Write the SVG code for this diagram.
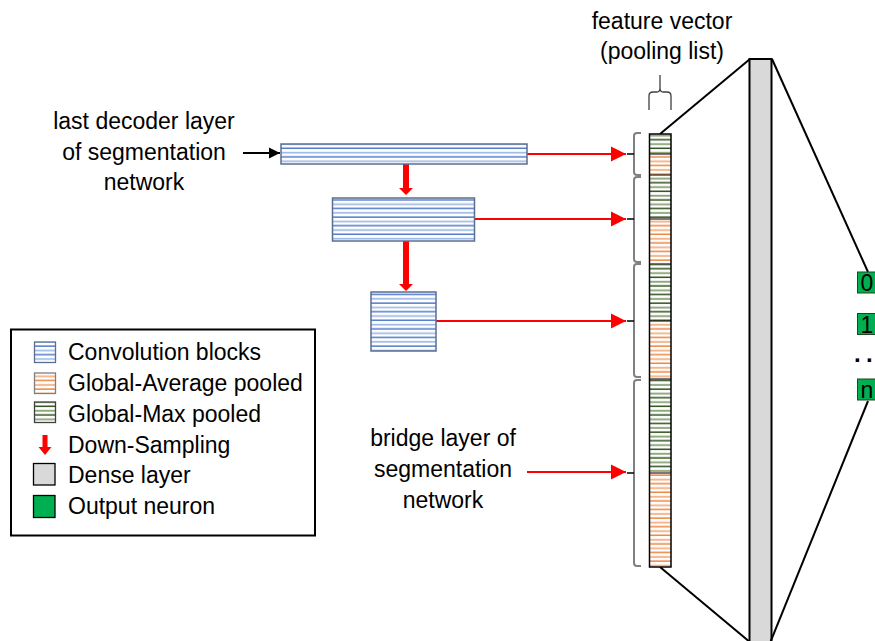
<svg xmlns="http://www.w3.org/2000/svg" width="875" height="641" viewBox="0 0 875 641">
<style>
.t{font-family:"Liberation Sans",Arial,sans-serif;font-size:22px;fill:#000}
.lg{font-size:23px}
.conv{fill:url(#pBlue);stroke:#5A6E92;stroke-width:1.5}
.red{stroke:#FF0000;stroke-width:2;fill:none}
.brk{stroke:#808080;stroke-width:2;fill:none}
.tick{stroke:#000;stroke-width:1.5}
.ln{stroke:#000;stroke-width:2;fill:none}
.out{fill:#00B050;stroke:#1E4620;stroke-width:1}
</style>
<defs>
<pattern id="pBlue" patternUnits="userSpaceOnUse" width="10" height="8.6">
<rect width="10" height="8.6" fill="#fff"/>
<rect y="1.4" width="10" height="1.4" fill="#4472C4"/>
<rect y="5.6" width="10" height="1.7" fill="#A0BAE6"/>
</pattern>
<pattern id="pOrange" patternUnits="userSpaceOnUse" width="10" height="8.6">
<rect width="10" height="8.6" fill="#fff"/>
<rect y="1.4" width="10" height="1.4" fill="#ED7D31"/>
<rect y="5.6" width="10" height="1.9" fill="#F4B48A"/>
</pattern>
<pattern id="pGreen" patternUnits="userSpaceOnUse" width="10" height="8.6">
<rect width="10" height="8.6" fill="#fff"/>
<rect y="1.4" width="10" height="1.5" fill="#2F4F1C"/>
<rect y="5.6" width="10" height="1.9" fill="#8FA67C"/>
</pattern>
<marker id="ahR" markerUnits="userSpaceOnUse" markerWidth="16" markerHeight="16" viewBox="0 0 16 16" refX="15" refY="8" orient="auto">
<path d="M0,0.5 L15,8 L0,15.5 Z" fill="#FF0000"/>
</marker>
<marker id="ahK" markerUnits="userSpaceOnUse" markerWidth="12" markerHeight="12" viewBox="0 0 12 12" refX="11" refY="6" orient="auto">
<path d="M0,0.5 L11,6 L0,11.5 Z" fill="#000"/>
</marker>
</defs>
<rect width="875" height="641" fill="#fff"/>

<g id="dense">
<rect x="749.5" y="59" width="22" height="600" fill="#D9D9D9" stroke="#000" stroke-width="2"/>
</g>
<g id="connectors">
<line class="ln" x1="660" y1="134" x2="750" y2="59"/>
<line class="ln" x1="660" y1="567" x2="751" y2="643"/>
<line class="ln" x1="772" y1="59" x2="868" y2="272"/>
<line class="ln" x1="868" y1="401" x2="770" y2="643"/>
<line stroke="#000" stroke-width="2" x1="243" y1="153" x2="280" y2="153" marker-end="url(#ahK)"/>
<line class="red" x1="527" y1="154" x2="626" y2="154" marker-end="url(#ahR)"/>
<line class="red" x1="474" y1="219" x2="626" y2="219" marker-end="url(#ahR)"/>
<line class="red" x1="436" y1="321" x2="626" y2="321" marker-end="url(#ahR)"/>
<line class="red" x1="527" y1="472" x2="626" y2="472" marker-end="url(#ahR)"/>
<path d="M403,164 H409 V188 H413 L406,195 L399,188 H403 Z" fill="#FF0000"/>
<path d="M403,241 H409 V284 H413 L406,291 L399,284 H403 Z" fill="#FF0000"/>
</g>

<g id="conv1"><rect class="conv" x="281" y="144" width="246" height="20"/></g>
<g id="conv2"><rect class="conv" x="332.5" y="198" width="142" height="43"/></g>
<g id="conv3"><rect class="conv" x="371" y="292" width="65" height="59"/></g>

<g id="feature-vector">
<rect x="649.5" y="134" width="21.5" height="20" fill="url(#pGreen)"/>
<rect x="649.5" y="154" width="21.5" height="21" fill="url(#pOrange)"/>
<rect x="649.5" y="175" width="21.5" height="44" fill="url(#pGreen)"/>
<rect x="649.5" y="219" width="21.5" height="45" fill="url(#pOrange)"/>
<rect x="649.5" y="264" width="21.5" height="57" fill="url(#pGreen)"/>
<rect x="649.5" y="321" width="21.5" height="58" fill="url(#pOrange)"/>
<rect x="649.5" y="379" width="21.5" height="94" fill="url(#pGreen)"/>
<rect x="649.5" y="473" width="21.5" height="94" fill="url(#pOrange)"/>
<g stroke="#222" stroke-width="1.2">
<line x1="649.5" y1="154" x2="671" y2="154"/>
<line x1="649.5" y1="175" x2="671" y2="175"/>
<line x1="649.5" y1="219" x2="671" y2="219"/>
<line x1="649.5" y1="264" x2="671" y2="264"/>
<line x1="649.5" y1="321" x2="671" y2="321"/>
<line x1="649.5" y1="379" x2="671" y2="379"/>
<line x1="649.5" y1="473" x2="671" y2="473"/>
</g>
<rect x="649.5" y="134" width="21.5" height="433" fill="none" stroke="#000" stroke-width="1.5"/>
</g>

<g id="brackets">
<path class="brk" d="M641,133 H637 Q634,133 634,136 V172 Q634,175 637,175 H641"/>
<path class="brk" d="M641,177 H637 Q634,177 634,180 V259 Q634,262 637,262 H641"/>
<path class="brk" d="M641,264 H637 Q634,264 634,267 V374 Q634,377 637,377 H641"/>
<path class="brk" d="M641,380 H637 Q634,380 634,383 V563 Q634,566 637,566 H641"/>
<line class="tick" x1="627" y1="154" x2="634" y2="154"/>
<line class="tick" x1="627" y1="219" x2="634" y2="219"/>
<line class="tick" x1="627" y1="321" x2="634" y2="321"/>
<line class="tick" x1="627" y1="473" x2="634" y2="473"/>
<path d="M649,110 V96 Q649,92 653,92 H657 Q660,92 660,88 V75 M660,88 Q660,92 663,92 H667 Q671,92 671,96 V110" fill="none" stroke="#404040" stroke-width="1.3"/>
</g>

<g id="out0"><rect class="out" x="857.5" y="272" width="22" height="21"/><text class="t" x="860.5" y="291" style="font-size:23px">0</text></g>
<g id="out1"><rect class="out" x="857.5" y="313.5" width="22" height="21"/><text class="t" x="860.5" y="332.5" style="font-size:23px">1</text></g>
<g id="outdots" class="t" style="font-size:24px;font-weight:bold">
<text x="854" y="362">.</text>
<text x="866" y="362">.</text>
</g>
<g id="outn"><rect class="out" x="857.5" y="379" width="22" height="21"/><text class="t" x="860.5" y="398" style="font-size:23px">n</text></g>

<g id="label-feature" class="t" text-anchor="middle" style="font-size:23px">
<text x="662" y="29">feature vector</text>
<text x="662" y="59">(pooling list)</text>
</g>
<g id="label-decoder" class="t" text-anchor="middle" style="font-size:23px">
<text x="144" y="129">last decoder layer</text>
<text x="144" y="160">of segmentation</text>
<text x="144" y="190">network</text>
</g>
<g id="label-bridge" class="t" text-anchor="middle" style="font-size:23px">
<text x="443" y="446">bridge layer of</text>
<text x="443" y="477">segmentation</text>
<text x="443" y="508">network</text>
</g>

<g id="legend">
<rect x="11" y="329.5" width="304" height="206" fill="#fff" stroke="#000" stroke-width="2"/>
<rect x="34.5" y="342" width="21" height="20.5" fill="url(#pBlue)" stroke="#5A6E92" stroke-width="1.3"/>
<rect x="34.5" y="373" width="21" height="20.5" fill="url(#pOrange)" stroke="#7F7F7F" stroke-width="1.3"/>
<rect x="34.5" y="402" width="21" height="20.5" fill="url(#pGreen)" stroke="#404040" stroke-width="1.3"/>
<path d="M42.5,435 H47.5 V447 H51.5 L45,455 L38.5,447 H42.5 Z" fill="#FF0000"/>
<rect x="33.5" y="463.5" width="21.5" height="21.5" fill="#D9D9D9" stroke="#000" stroke-width="1.3"/>
<rect x="33.5" y="495.5" width="21.5" height="22" fill="#00B050" stroke="#000" stroke-width="1.3"/>
<text class="t lg" x="68" y="360">Convolution blocks</text>
<text class="t lg" x="68" y="391">Global-Average pooled</text>
<text class="t lg" x="68" y="422">Global-Max pooled</text>
<text class="t lg" x="68" y="453">Down-Sampling</text>
<text class="t lg" x="68" y="483">Dense layer</text>
<text class="t lg" x="68" y="514">Output neuron</text>
</g>
</svg>
